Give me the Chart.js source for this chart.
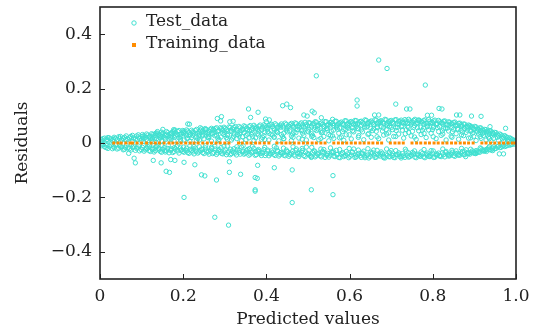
<!DOCTYPE html>
<html>
<head>
<meta charset="utf-8">
<script src="https://cdn.jsdelivr.net/npm/chart.js@4/dist/chart.umd.min.js"></script>
<style>
  html, body { margin: 0; padding: 0; background: #fff; }
  #wrap { width: 536px; height: 333px; }
</style>
</head>
<body>
<div id="wrap"><canvas id="resid"></canvas></div>
<script>
// Axis ticks
const xTickValues = [0, 0.2, 0.4, 0.6, 0.8, 1.0];
const xTickLabels = ['0', '0.2', '0.4', '0.6', '0.8', '1.0'];
const yTickValues = [-0.4, -0.2, 0, 0.2, 0.4];
const yTickLabels = ['\u22120.4', '\u22120.2', '0', '0.2', '0.4'];

// Test residuals, main band: one predicted value per column, residuals listed per column
const bandX = [
  0.004, 0.011, 0.019, 0.026, 0.034, 0.041, 0.049, 0.056, 0.063, 0.071, 0.078, 0.085, 0.092, 0.099,
  0.106, 0.112, 0.118, 0.124, 0.13, 0.136, 0.142, 0.148, 0.154, 0.16, 0.166, 0.172, 0.178, 0.184,
  0.19, 0.196, 0.202, 0.208, 0.214, 0.22, 0.226, 0.232, 0.238, 0.244, 0.25, 0.256, 0.262, 0.268,
  0.274, 0.28, 0.286, 0.292, 0.298, 0.304, 0.31, 0.316, 0.322, 0.328, 0.334, 0.34, 0.346, 0.352,
  0.358, 0.364, 0.37, 0.376, 0.382, 0.388, 0.394, 0.4, 0.406, 0.412, 0.418, 0.424, 0.43, 0.436,
  0.442, 0.448, 0.454, 0.46, 0.466, 0.472, 0.478, 0.484, 0.49, 0.496, 0.502, 0.508, 0.514, 0.52,
  0.526, 0.532, 0.538, 0.544, 0.55, 0.556, 0.562, 0.568, 0.574, 0.58, 0.586, 0.592, 0.598, 0.604,
  0.61, 0.616, 0.622, 0.628, 0.634, 0.64, 0.646, 0.652, 0.658, 0.664, 0.67, 0.676, 0.682, 0.688,
  0.694, 0.7, 0.706, 0.712, 0.718, 0.724, 0.73, 0.736, 0.742, 0.748, 0.754, 0.76, 0.766, 0.772,
  0.778, 0.784, 0.79, 0.796, 0.802, 0.808, 0.814, 0.82, 0.826, 0.832, 0.838, 0.844, 0.85, 0.856,
  0.862, 0.868, 0.874, 0.88, 0.886, 0.892, 0.898, 0.904, 0.91, 0.916, 0.922, 0.928, 0.934, 0.94,
  0.946, 0.952, 0.958, 0.964, 0.97, 0.976, 0.982, 0.988, 0.994, 0.999
];
const bandY = [
  [0.012, -0.01, 0.004], [0.018, -0.014], [0.008, -0.02, 0.02], [0.015, -0.008], [0.021, -0.017, 0.006],
  [0.012, -0.022], [0.024, -0.012, 0.005], [0.017, -0.025], [0.026, -0.009, 0.01], [0.02, -0.021],
  [0.028, -0.015, 0.006], [0.014, -0.027], [0.03, -0.011, 0.022], [0.009, -0.024],
  [0.027, -0.03, 0.016], [0.033, -0.018], [0.021, -0.006, -0.028], [0.034, 0.01], [0.026, -0.022, -0.033],
  [0.037, 0.016, -0.012], [0.03, -0.026], [0.04, 0.008, -0.034], [0.022, -0.017], [0.042, 0.031, -0.029],
  [0.014, -0.036], [0.038, 0.025, -0.021], [0.044, -0.031, 0.008], [0.032, -0.014],
  [0.046, 0.019, -0.037], [0.035, -0.025], [0.043, 0.011, -0.034], [0.027, -0.019, 0.048], [0.039, -0.038],
  [0.047, 0.02, -0.028], [0.033, -0.013, -0.04], [0.05, 0.009], [0.041, -0.033, 0.026], [0.052, -0.022],
  [0.036, 0.015, -0.039], [0.049, -0.029], [0.044, 0.024, -0.041], [0.054, -0.016, 0.007],
  [0.038, -0.035], [0.056, 0.029, -0.042], [0.046, -0.024, 0.013], [0.053, -0.038], [0.031, 0.058, -0.012],
  [0.049, -0.043, 0.02], [0.059, -0.03], [0.042, 0.011, -0.039], [0.057, 0.034, -0.021], [0.05, -0.044],
  [0.061, 0.025, -0.034], [0.045, -0.015, 0.008], [0.063, 0.038, -0.041], [0.054, -0.027],
  [0.06, 0.019, -0.045], [0.047, 0.032, -0.036], [0.065, -0.02, 0.009], [0.056, -0.043], [0.062, 0.041, -0.031],
  [0.051, 0.014, -0.046], [0.067, 0.027, -0.024], [0.058, -0.039], [0.064, 0.036, -0.047, 0.011],
  [0.069, -0.029], [0.053, 0.022, -0.042], [0.066, 0.044, -0.018], [0.06, -0.048, 0.008], [0.07, 0.031, -0.035],
  [0.055, 0.016, -0.045], [0.068, 0.047, -0.026], [0.062, -0.049], [0.072, 0.026, -0.038, 0.009],
  [0.057, 0.039, -0.044], [0.071, -0.022], [0.064, 0.018, -0.05], [0.074, 0.045, -0.033], [0.059, 0.028, -0.046],
  [0.069, -0.015, 0.011], [0.075, 0.051, -0.041], [0.063, 0.034, -0.05], [0.072, 0.02, -0.029], [0.077, 0.046, -0.047],
  [0.066, 0.012, -0.037], [0.074, 0.038, -0.051], [0.06, 0.024, -0.024], [0.078, 0.053, -0.044],
  [0.069, 0.031, -0.052, 0.008], [0.076, 0.044, -0.034], [0.064, 0.017, -0.048], [0.08, 0.057, -0.027],
  [0.071, 0.036, -0.053], [0.077, 0.022, -0.041], [0.067, 0.049, -0.05, 0.01], [0.081, 0.03, -0.031],
  [0.073, 0.055, -0.054], [0.079, 0.015, -0.044], [0.068, 0.041, -0.022], [0.082, 0.06, -0.051],
  [0.074, 0.027, -0.038], [0.08, 0.048, -0.053], [0.07, 0.012, -0.03], [0.083, 0.058, -0.047],
  [0.076, 0.035, -0.055], [0.081, 0.021, -0.04], [0.069, 0.052, -0.026], [0.084, 0.043, -0.052],
  [0.077, 0.016, -0.045], [0.082, 0.061, -0.033], [0.072, 0.029, -0.054], [0.085, 0.05, -0.041],
  [0.078, 0.011, -0.05, 0.037], [0.083, 0.057, -0.028], [0.071, 0.024, -0.053], [0.086, 0.046, -0.043],
  [0.079, 0.033, -0.036], [0.084, 0.06, -0.055], [0.073, 0.018, -0.047], [0.081, 0.049, -0.03],
  [0.087, 0.039, -0.052], [0.076, 0.026, -0.044], [0.083, 0.058, -0.038], [0.07, 0.013, -0.054],
  [0.085, 0.045, -0.046], [0.078, 0.031, -0.033], [0.082, 0.055, -0.051], [0.072, 0.02, -0.042],
  [0.086, 0.048, -0.049], [0.075, 0.036, -0.028], [0.081, 0.059, -0.053], [0.069, 0.016, -0.045],
  [0.083, 0.042, -0.037], [0.074, 0.028, -0.05], [0.08, 0.053, -0.043], [0.066, 0.011, -0.031],
  [0.078, 0.044, -0.048], [0.071, 0.025, -0.04], [0.075, 0.05, -0.046], [0.063, 0.034, -0.029],
  [0.072, 0.014, -0.044], [0.067, 0.047, -0.038], [0.07, 0.027, -0.042], [0.058, 0.039, -0.025],
  [0.066, 0.018, -0.039], [0.061, 0.043, -0.034], [0.054, 0.024, -0.037], [0.059, 0.009, -0.028],
  [0.05, 0.033, -0.033], [0.055, 0.017, -0.021], [0.045, 0.028, -0.03], [0.049, 0.011, -0.024],
  [0.04, 0.022, -0.018], [0.044, 0.008, -0.026], [0.034, 0.017, -0.014], [0.038, -0.02],
  [0.027, 0.01, -0.011], [0.03, -0.016], [0.021, 0.007, -0.008], [0.023, -0.011], [0.014, 0.005],
  [0.016, -0.006], [0.009, 0.004], [0.006]
];

// second pass over the band, columns between the ones above
const bandX2 = [
  0.007, 0.015, 0.022, 0.03, 0.037, 0.045, 0.052, 0.059, 0.067, 0.074, 0.081, 0.088, 0.095, 0.102,
  0.109, 0.115, 0.121, 0.127, 0.133, 0.139, 0.145, 0.151, 0.157, 0.163, 0.169, 0.175, 0.181, 0.187,
  0.193, 0.199, 0.205, 0.211, 0.217, 0.223, 0.229, 0.235, 0.241, 0.247, 0.253, 0.259, 0.265, 0.271,
  0.277, 0.283, 0.289, 0.295, 0.301, 0.307, 0.313, 0.319, 0.325, 0.331, 0.337, 0.343, 0.349, 0.355,
  0.361, 0.367, 0.373, 0.379, 0.385, 0.391, 0.397, 0.403, 0.409, 0.415, 0.421, 0.427, 0.433, 0.439,
  0.445, 0.451, 0.457, 0.463, 0.469, 0.475, 0.481, 0.487, 0.493, 0.499, 0.505, 0.511, 0.517, 0.523,
  0.529, 0.535, 0.541, 0.547, 0.553, 0.559, 0.565, 0.571, 0.577, 0.583, 0.589, 0.595, 0.601, 0.607,
  0.613, 0.619, 0.625, 0.631, 0.637, 0.643, 0.649, 0.655, 0.661, 0.667, 0.673, 0.679, 0.685, 0.691,
  0.697, 0.703, 0.709, 0.715, 0.721, 0.727, 0.733, 0.739, 0.745, 0.751, 0.757, 0.763, 0.769, 0.775,
  0.781, 0.787, 0.793, 0.799, 0.805, 0.811, 0.817, 0.823, 0.829, 0.835, 0.841, 0.847, 0.853, 0.859,
  0.865, 0.871, 0.877, 0.883, 0.889, 0.895, 0.901, 0.907, 0.913, 0.919, 0.925, 0.931, 0.937, 0.943,
  0.949, 0.955, 0.961, 0.967, 0.973, 0.979, 0.985, 0.991, 0.997
];
const bandY2 = [
  [0.016, -0.005], [0.01, -0.017], [0.019, -0.012], [0.009, -0.021], [0.017, -0.006], [0.023, -0.019],
  [0.011, -0.015], [0.021, -0.023], [0.014, -0.018], [0.024, -0.026], [0.019, -0.011], [0.026, -0.02],
  [0.017, -0.029], [0.024, -0.016, 0.031], [0.021, -0.025], [0.029, -0.014], [0.025, -0.031, 0.015],
  [0.031, -0.019], [0.022, -0.028, 0.035], [0.033, -0.009], [0.027, -0.031, 0.019], [0.036, -0.023],
  [0.029, -0.033, 0.013], [0.038, -0.02], [0.033, -0.027, 0.021], [0.041, -0.035], [0.027, -0.022, 0.037],
  [0.042, -0.029], [0.031, -0.018, 0.014], [0.039, -0.031, 0.046], [0.035, -0.026], [0.044, -0.035, 0.018],
  [0.031, -0.023], [0.042, -0.033, 0.028], [0.046, -0.019], [0.036, -0.037, 0.016], [0.047, -0.028],
  [0.043, -0.035, 0.03], [0.053, -0.018], [0.039, -0.034, 0.021], [0.05, -0.026], [0.047, -0.039, 0.033],
  [0.053, -0.022], [0.041, -0.036, 0.019], [0.056, -0.031], [0.048, -0.04, 0.036], [0.054, -0.025],
  [0.044, -0.036, 0.027], [0.057, -0.043], [0.052, -0.029, 0.018], [0.061, -0.037], [0.046, -0.023, 0.031],
  [0.056, -0.041], [0.052, -0.032, 0.023], [0.06, -0.038], [0.049, -0.024, 0.033], [0.064, -0.041],
  [0.055, -0.033, 0.025], [0.059, -0.045], [0.05, -0.028, 0.034], [0.066, -0.039], [0.058, -0.034, 0.02],
  [0.063, -0.046], [0.052, -0.026, 0.042], [0.067, -0.04], [0.06, -0.035, 0.029], [0.071, -0.046],
  [0.057, -0.03, 0.038], [0.065, -0.043], [0.062, -0.038, 0.024], [0.073, -0.047], [0.058, -0.032, 0.041],
  [0.068, -0.044], [0.065, -0.03, 0.033], [0.074, -0.048], [0.061, -0.037, 0.049], [0.07, -0.043],
  [0.066, -0.027, 0.036], [0.076, -0.05], [0.063, -0.039, 0.044], [0.073, -0.046], [0.069, -0.034, 0.028],
  [0.078, -0.051], [0.062, -0.041, 0.052], [0.071, -0.047], [0.068, -0.031, 0.04], [0.079, -0.053],
  [0.065, -0.038, 0.047], [0.075, -0.045], [0.071, -0.035, 0.026], [0.08, -0.05], [0.066, -0.042, 0.051],
  [0.074, -0.054], [0.072, -0.036, 0.042], [0.082, -0.046], [0.069, -0.04, 0.058], [0.077, -0.049],
  [0.074, -0.034, 0.045], [0.083, -0.053], [0.07, -0.043, 0.054], [0.079, -0.047], [0.075, -0.037, 0.041],
  [0.085, -0.054], [0.071, -0.044, 0.062], [0.078, -0.05], [0.074, -0.036, 0.046], [0.086, -0.053],
  [0.07, -0.041, 0.056], [0.08, -0.048], [0.076, -0.038, 0.044], [0.087, -0.055], [0.073, -0.045, 0.063],
  [0.081, -0.051], [0.077, -0.037, 0.049], [0.085, -0.054], [0.071, -0.043, 0.058], [0.08, -0.05],
  [0.076, -0.039, 0.047], [0.086, -0.053], [0.072, -0.046, 0.061], [0.081, -0.05], [0.078, -0.035, 0.043],
  [0.087, -0.052], [0.074, -0.044, 0.056], [0.082, -0.049], [0.077, -0.039, 0.047], [0.085, -0.054],
  [0.07, -0.045, 0.06], [0.08, -0.05], [0.076, -0.037, 0.049], [0.084, -0.052], [0.071, -0.043, 0.057],
  [0.078, -0.048], [0.074, -0.036, 0.045], [0.081, -0.051], [0.068, -0.041, 0.055], [0.076, -0.047],
  [0.07, -0.034, 0.042], [0.077, -0.049], [0.066, -0.038, 0.052], [0.073, -0.045], [0.063, -0.031, 0.04],
  [0.069, -0.043], [0.061, -0.035, 0.047], [0.064, -0.041], [0.057, -0.029, 0.036], [0.061, -0.038],
  [0.052, -0.03, 0.041], [0.056, -0.034], [0.048, -0.025, 0.035], [0.05, -0.029], [0.043, -0.022, 0.03],
  [0.045, -0.024], [0.038, -0.018, 0.026], [0.039, -0.021], [0.032, -0.014, 0.021], [0.033, -0.017],
  [0.026, -0.012, 0.016], [0.027, -0.013], [0.02, -0.009, 0.011], [0.019, -0.008], [0.013, -0.005],
  [0.01, -0.004]
];

// third pass, filling the inside of the band
const bandX3 = [
  0.003, 0.017, 0.032, 0.047, 0.061, 0.076, 0.09, 0.104, 0.111, 0.119, 0.126, 0.134, 0.141, 0.149,
  0.156, 0.164, 0.171, 0.179, 0.186, 0.194, 0.201, 0.209, 0.216, 0.224, 0.231, 0.239, 0.246, 0.254,
  0.261, 0.269, 0.276, 0.284, 0.291, 0.299, 0.306, 0.314, 0.321, 0.329, 0.336, 0.344, 0.351, 0.359,
  0.366, 0.374, 0.381, 0.389, 0.396, 0.404, 0.411, 0.419, 0.426, 0.434, 0.441, 0.449, 0.456, 0.464,
  0.471, 0.479, 0.486, 0.494, 0.501, 0.509, 0.516, 0.524, 0.531, 0.539, 0.546, 0.554, 0.561, 0.569,
  0.576, 0.584, 0.591, 0.599, 0.606, 0.614, 0.621, 0.629, 0.636, 0.644, 0.651, 0.659, 0.666, 0.674,
  0.681, 0.689, 0.696, 0.704, 0.711, 0.719, 0.726, 0.734, 0.741, 0.749, 0.756, 0.764, 0.771, 0.779,
  0.786, 0.794, 0.801, 0.809, 0.816, 0.824, 0.831, 0.839, 0.846, 0.854, 0.861, 0.869, 0.876, 0.884,
  0.891, 0.899, 0.906, 0.914, 0.921, 0.929, 0.936, 0.944
];
const bandY3 = [
  [0.007, -0.004], [0.013, -0.009], [0.014, -0.012], [0.017, -0.008], [0.013, -0.016], [0.018, -0.006],
  [0.012, -0.018], [0.019, -0.009, 0.006], [0.013, -0.021], [0.024, -0.011], [0.017, -0.024, 0.005],
  [0.028, -0.015], [0.011, -0.02], [0.024, -0.01, 0.032], [0.018, -0.027], [0.027, -0.008],
  [0.014, -0.025, 0.034], [0.021, -0.017], [0.03, -0.009], [0.024, -0.027, 0.008], [0.035, -0.015],
  [0.017, -0.029], [0.029, -0.011, 0.007], [0.038, -0.022], [0.022, -0.03], [0.033, -0.014, 0.011],
  [0.026, -0.024], [0.04, -0.01], [0.019, -0.031, 0.031], [0.036, -0.02], [0.027, -0.012],
  [0.044, -0.028, 0.009], [0.022, -0.017], [0.04, -0.033], [0.031, -0.011, 0.014], [0.047, -0.023],
  [0.025, -0.035], [0.04, -0.014, 0.016], [0.034, -0.027], [0.049, -0.01], [0.028, -0.034, 0.012],
  [0.044, -0.021], [0.037, -0.013], [0.052, -0.031, 0.019], [0.03, -0.024], [0.047, -0.037],
  [0.039, -0.016, 0.013], [0.055, -0.03], [0.032, -0.04], [0.048, -0.012, 0.021], [0.041, -0.027],
  [0.058, -0.036], [0.035, -0.019, 0.016], [0.052, -0.031], [0.044, -0.041], [0.06, -0.014, 0.021],
  [0.038, -0.028], [0.055, -0.038], [0.047, -0.02, 0.014], [0.062, -0.033], [0.041, -0.043],
  [0.058, -0.016, 0.024], [0.05, -0.03], [0.064, -0.04], [0.044, -0.022, 0.017], [0.06, -0.035],
  [0.053, -0.045], [0.066, -0.018, 0.027], [0.047, -0.031], [0.062, -0.042], [0.055, -0.024, 0.019],
  [0.068, -0.037], [0.05, -0.046], [0.064, -0.02, 0.03], [0.057, -0.033], [0.07, -0.044],
  [0.052, -0.026, 0.021], [0.066, -0.039], [0.059, -0.048], [0.072, -0.021, 0.032], [0.054, -0.034],
  [0.067, -0.045], [0.06, -0.027, 0.023], [0.073, -0.04], [0.055, -0.049], [0.068, -0.022, 0.033],
  [0.062, -0.035], [0.074, -0.046], [0.056, -0.028, 0.024], [0.069, -0.041], [0.063, -0.049],
  [0.075, -0.023, 0.034], [0.057, -0.036], [0.07, -0.045], [0.064, -0.029, 0.022], [0.074, -0.041],
  [0.058, -0.048], [0.069, -0.024, 0.035], [0.063, -0.037], [0.072, -0.045], [0.056, -0.029, 0.023],
  [0.067, -0.04], [0.061, -0.047], [0.07, -0.022, 0.033], [0.054, -0.035], [0.065, -0.043],
  [0.058, -0.027, 0.021], [0.066, -0.038], [0.05, -0.044], [0.06, -0.02, 0.03], [0.054, -0.032],
  [0.058, -0.039], [0.045, -0.023, 0.019], [0.05, -0.033], [0.044, -0.036], [0.046, -0.018, 0.024],
  [0.038, -0.027], [0.04, -0.031], [0.033, -0.013, 0.016], [0.034, -0.022]
];

// Test residuals away from the band
const outlierX = [
  0.67, 0.69, 0.52, 0.782, 0.618, 0.618, 0.711, 0.737, 0.745, 0.815, 0.822, 0.357, 0.38, 0.439,
  0.449, 0.458, 0.292, 0.282, 0.362, 0.32, 0.398, 0.407, 0.49, 0.498, 0.51, 0.515, 0.532, 0.559,
  0.66, 0.67, 0.765, 0.787, 0.797, 0.857, 0.865, 0.893, 0.916, 0.975, 0.9375, 0.215, 0.241, 0.273,
  0.18, 0.211, 0.177, 0.151, 0.138, 0.253, 0.29, 0.312, 0.4,
  0.082, 0.085, 0.128, 0.147, 0.17, 0.18, 0.159, 0.167, 0.202, 0.202, 0.228, 0.244, 0.252, 0.28,
  0.276, 0.309, 0.311, 0.311, 0.338, 0.373, 0.378, 0.373, 0.373, 0.379, 0.419, 0.462, 0.462, 0.508,
  0.56, 0.56, 0.508, 0.069, 0.879, 0.903, 0.926, 0.944, 0.96, 0.97
];
const outlierY = [
  0.305, 0.274, 0.247, 0.213, 0.158, 0.136, 0.143, 0.125, 0.125, 0.127, 0.125, 0.125, 0.113, 0.137,
  0.143, 0.13, 0.097, 0.09, 0.094, 0.08, 0.088, 0.085, 0.103, 0.099, 0.117, 0.111, 0.093, 0.087,
  0.103, 0.103, 0.082, 0.102, 0.102, 0.103, 0.103, 0.099, 0.098, 0.054, 0.06, 0.069, 0.056, 0.05,
  0.048, 0.07, 0.049, 0.05, 0.042, 0.049, 0.081, 0.078, 0.078,
  -0.056, -0.073, -0.064, -0.073, -0.061, -0.064, -0.104, -0.108, -0.071, -0.2, -0.08, -0.117, -0.121, -0.136,
  -0.273, -0.302, -0.108, -0.069, -0.115, -0.127, -0.13, -0.172, -0.177, -0.082, -0.091, -0.099, -0.219, -0.172,
  -0.12, -0.19, -0.053, -0.038, -0.05, -0.039, -0.027, -0.028, -0.04, -0.04
];

// Training residuals sit on zero
const trainX = [
  0.033, 0.043, 0.051, 0.062, 0.072, 0.078, 0.089, 0.1, 0.112, 0.123, 0.133, 0.143, 0.154, 0.166,
  0.175, 0.185, 0.195, 0.206, 0.217, 0.226, 0.236, 0.247, 0.258, 0.268, 0.279, 0.289, 0.3, 0.31,
  0.333, 0.342, 0.353, 0.363, 0.374, 0.384, 0.395, 0.406, 0.425, 0.437, 0.447, 0.457, 0.467, 0.478,
  0.489, 0.499, 0.51, 0.52, 0.531, 0.541, 0.562, 0.573, 0.583, 0.593, 0.604, 0.614, 0.625, 0.635,
  0.646, 0.656, 0.667, 0.677, 0.698, 0.709, 0.719, 0.729, 0.75, 0.761, 0.771, 0.782, 0.792, 0.803,
  0.813, 0.824, 0.834, 0.845, 0.855, 0.866, 0.876, 0.886, 0.897, 0.918, 0.928, 0.939, 0.949, 0.96,
  0.97, 0.981, 0.991, 0.998
];

const CYAN = '#40e0d0';
const ORANGE = '#ff8c00';
const FONT = "'DejaVu Serif', serif";
const FONT_SIZE = 17;

const testPoints = [];
[[bandX, bandY], [bandX2, bandY2], [bandX3, bandY3]].forEach(([xs, ys]) => {
  xs.forEach((x, i) => ys[i].forEach(y => testPoints.push({ x, y })));
});
outlierX.forEach((x, i) => testPoints.push({ x, y: outlierY[i] }));
const trainPoints = trainX.map(x => ({ x, y: 0 }));

// frame, inward tick marks and the legend inside the plot
const framePlugin = {
  id: 'frame',
  afterDraw(chart) {
    const { ctx, chartArea: a, scales } = chart;
    ctx.save();
    ctx.strokeStyle = '#222';
    ctx.lineWidth = 1;
    scales.x.ticks.forEach(t => {
      const px = Math.round(scales.x.getPixelForValue(t.value)) + 0.5;
      ctx.beginPath(); ctx.moveTo(px, a.bottom); ctx.lineTo(px, a.bottom - 5); ctx.stroke();
    });
    scales.y.ticks.forEach(t => {
      const py = Math.round(scales.y.getPixelForValue(t.value)) + 0.5;
      ctx.beginPath(); ctx.moveTo(a.left, py); ctx.lineTo(a.left + 5, py); ctx.stroke();
    });
    ctx.lineWidth = 1.6;
    ctx.strokeRect(a.left, a.top, a.right - a.left, a.bottom - a.top);

    // legend
    ctx.font = FONT_SIZE + 'px ' + FONT;
    ctx.textBaseline = 'middle';
    ctx.fillStyle = '#222';
    ctx.strokeStyle = CYAN;
    ctx.lineWidth = 1;
    ctx.beginPath(); ctx.arc(a.left + 34, a.top + 16, 2.2, 0, Math.PI * 2); ctx.stroke();
    ctx.fillText(chart.data.datasets[1].label, a.left + 46, a.top + 15);
    ctx.fillStyle = ORANGE;
    ctx.fillRect(a.left + 32, a.top + 36, 4, 4);
    ctx.fillStyle = '#222';
    ctx.fillText(chart.data.datasets[0].label, a.left + 46, a.top + 37);
    ctx.restore();
  }
};

new Chart(document.getElementById('resid'), {
  type: 'scatter',
  data: {
    datasets: [
      {
        label: 'Training_data',
        data: trainPoints,
        pointStyle: 'rect',
        pointRadius: 2.1,
        backgroundColor: ORANGE,
        borderWidth: 0,
        order: 0
      },
      {
        label: 'Test_data',
        data: testPoints,
        pointStyle: 'circle',
        pointRadius: 2.2,
        backgroundColor: 'rgba(0,0,0,0)',
        borderColor: CYAN,
        borderWidth: 1,
        order: 1
      }
    ]
  },
  options: {
    responsive: true,
    maintainAspectRatio: false,
    animation: false,
    events: [],
    layout: { padding: { top: 7, right: 20, left: 0, bottom: 0 } },
    plugins: { legend: { display: false }, tooltip: { enabled: false } },
    scales: {
      x: {
        type: 'linear',
        min: 0,
        max: 1,
        grid: { display: false, drawTicks: false },
        border: { display: false },
        afterBuildTicks: s => { s.ticks = xTickValues.map(v => ({ value: v })); },
        afterFit: s => { s.height = 54; s.paddingLeft = 0; s.paddingRight = 0; },
        ticks: {
          padding: 7,
          color: '#222',
          font: { family: FONT, size: FONT_SIZE },
          maxRotation: 0,
          callback: (v, i) => xTickLabels[i]
        },
        title: {
          display: true,
          text: 'Predicted values',
          color: '#222',
          font: { family: FONT, size: FONT_SIZE },
          padding: { bottom: 3 }
        }
      },
      y: {
        type: 'linear',
        min: -0.5,
        max: 0.5,
        grid: { display: false, drawTicks: false },
        border: { display: false },
        afterBuildTicks: s => { s.ticks = yTickValues.map(v => ({ value: v })); },
        afterFit: s => { s.width = 100; s.paddingTop = 0; s.paddingBottom = 0; },
        ticks: {
          padding: 8,
          color: '#222',
          font: { family: FONT, size: FONT_SIZE },
          callback: (v, i) => yTickLabels[i]
        },
        title: {
          display: true,
          text: 'Residuals',
          color: '#222',
          font: { family: FONT, size: FONT_SIZE },
          padding: { top: 12 }
        }
      }
    }
  },
  plugins: [framePlugin]
});
</script>
</body>
</html>
